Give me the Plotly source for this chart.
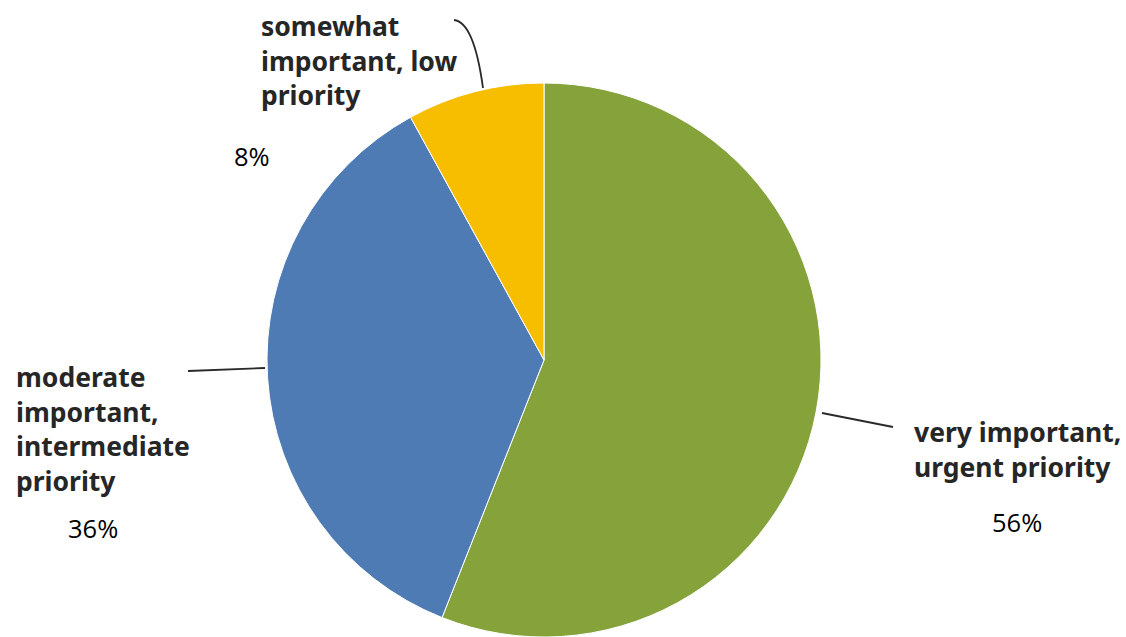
import plotly.graph_objects as go

W, H = 1126, 637

# Survey shares, clockwise from 12 o'clock
categories = ["very important, urgent priority",
              "moderate important, intermediate priority",
              "somewhat important, low priority"]
values = [56, 36, 8]
colors = ["#86A33B", "#4F7BB4", "#F7BE00"]
pct_labels = ["56%", "36%", "8%"]

# Label text split into drawn lines
label_lines = [
    ["very important,", "urgent priority"],
    ["moderate", "important,", "intermediate", "priority"],
    ["somewhat", "important, low", "priority"],
]

cx, cy, r = 544, 360, 277

fig = go.Figure()
fig.add_trace(go.Pie(
    labels=categories, values=values, sort=False, direction="clockwise",
    rotation=0, marker=dict(colors=colors, line=dict(color="white", width=1)),
    textinfo="none", hoverinfo="label+percent", showlegend=False,
    domain=dict(x=[(cx - r) / W, (cx + r) / W],
                y=[1 - (cy + r) / H, 1 - (cy - r) / H]),
))

# invisible pixel-space axes for labels and leader lines
fig.update_xaxes(range=[0, W], visible=False, fixedrange=True)
fig.update_yaxes(range=[H, 0], visible=False, fixedrange=True)
fig.add_trace(go.Scatter(x=[0], y=[0], mode="markers", marker=dict(opacity=0),
                         showlegend=False, hoverinfo="skip"))

bold_font = dict(family="Noto Sans", size=26.5, color="#262626")
pct_font = dict(family="Open Sans", size=25.5, color="#000000")

label_pos = [(912, 432), (14, 377), (259, 26)]
line_gap = 34.7
for lines, (lx, ly) in zip(label_lines, label_pos):
    for i, t in enumerate(lines):
        fig.add_annotation(x=lx, y=ly + i * line_gap, text="<b>%s</b>" % t,
                           xref="x", yref="y", xanchor="left", yanchor="middle",
                           showarrow=False, font=bold_font)

pct_pos = [(1017, 522), (93, 528), (252, 156)]
for t, (px, py) in zip(pct_labels, pct_pos):
    fig.add_annotation(x=px, y=py, text=t, xref="x", yref="y",
                       xanchor="center", yanchor="middle", showarrow=False,
                       font=pct_font)

# leader lines
line_style = dict(color="#2a2a2a", width=1.8)
fig.add_shape(type="line", x0=822, y0=413, x1=893, y1=427, xref="x", yref="y", line=line_style)
fig.add_shape(type="line", x0=188, y0=371, x1=265, y1=368, xref="x", yref="y", line=line_style)
fig.add_shape(type="path", path="M 454 20 Q 474 22 483 88", xref="x", yref="y", line=line_style)

fig.update_layout(width=W, height=H, margin=dict(l=0, r=0, t=0, b=0),
                  paper_bgcolor="white", plot_bgcolor="rgba(0,0,0,0)")

fig.write_html("out.html")
